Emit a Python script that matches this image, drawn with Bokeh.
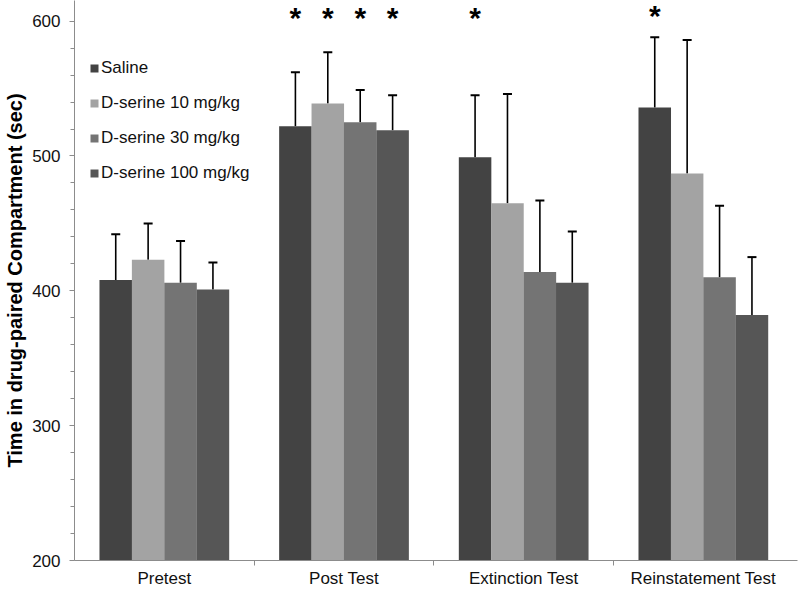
import numpy as np
from bokeh.plotting import figure
from bokeh.models import (ColumnDataSource, Range1d, FixedTicker, SingleIntervalTicker,
                          Whisker, TeeHead, Legend, LegendItem)
from bokeh.core.properties import value
from bokeh.embed import file_html
from bokeh.resources import INLINE

categories = ["Pretest", "Post Test", "Extinction Test", "Reinstatement Test"]
groups = ["Saline", "D-serine 10 mg/kg", "D-serine 30 mg/kg", "D-serine 100 mg/kg"]

saline = [408, 522, 499, 536]
dser10 = [423, 539, 465, 487]
dser30 = [406, 525, 414, 410]
dser100 = [401, 519, 406, 382]

saline_err = [34, 40, 46, 52]
dser10_err = [27, 38, 81, 99]
dser30_err = [31, 24, 53, 53]
dser100_err = [20, 26, 38, 43]

# significance markers (1 = asterisk above bar)
saline_sig = [0, 1, 1, 1]
dser10_sig = [0, 1, 0, 0]
dser30_sig = [0, 1, 0, 0]
dser100_sig = [0, 1, 0, 0]
star_y = [602.5, 602.5, 602.5, 604.5]

colors = ["#434343", "#a3a3a3", "#747474", "#565656"]
FONT = "Liberation Sans"

p = figure(width=800, height=592, output_backend="svg", toolbar_location=None,
           x_range=Range1d(0, 4.024), y_range=Range1d(200, 615.3),
           min_border_left=74, min_border_right=3, min_border_top=0, min_border_bottom=32)
p.grid.visible = False
p.outline_line_color = None
p.background_fill_color = "white"
p.border_fill_color = "white"

offsets = [-0.2705, -0.0902, 0.0902, 0.2705]
bar_w = 0.181

series = [saline, dser10, dser30, dser100]
errs = [saline_err, dser10_err, dser30_err, dser100_err]
sigs = [saline_sig, dser10_sig, dser30_sig, dser100_sig]

items = []
for i in range(4):
    x = np.arange(len(categories)) + 0.5 + offsets[i]
    vals = np.array(series[i], dtype=float)
    up = vals + np.array(errs[i], dtype=float)
    src = ColumnDataSource(dict(x=x, top=vals, upper=up))
    r = p.vbar(x="x", top="top", bottom=200, width=bar_w, source=src,
               fill_color=colors[i], line_color=None)
    items.append(LegendItem(label=groups[i], renderers=[r]))
    w = Whisker(base="x", lower="top", upper="upper", source=src,
                upper_head=TeeHead(size=9, line_width=2, line_color="black"),
                lower_head=None, line_color="black", line_width=1.6)
    p.add_layout(w)
    sx = [x[j] for j in range(len(categories)) if sigs[i][j]]
    sy = [star_y[j] for j in range(len(categories)) if sigs[i][j]]
    ssrc = ColumnDataSource(dict(x=sx, y=sy, t=["*"] * len(sx)))
    p.text(x="x", y="y", text="t", source=ssrc, text_align="center",
           text_baseline="alphabetic", text_font=value(FONT), text_font_style="bold",
           text_font_size="30px", text_color="black")

axis_col = "#8c8c8c"
# Y axis
yax = p.yaxis[0]
yax.ticker = SingleIntervalTicker(interval=100, num_minor_ticks=5)
yax.axis_line_color = axis_col
yax.major_tick_line_color = axis_col
yax.minor_tick_line_color = axis_col
yax.major_tick_in = 0
yax.major_tick_out = 5
yax.minor_tick_in = 0
yax.minor_tick_out = 4
yax.major_label_text_font = FONT
yax.major_label_text_font_size = "17px"
yax.major_label_text_color = "#111111"
yax.major_label_standoff = 9
yax.axis_label = "Time in drug-paired Compartment (sec)"
yax.axis_label_text_font = FONT
yax.axis_label_text_font_style = "bold"
yax.axis_label_text_font_size = "20px"
yax.axis_label_text_color = "black"
yax.axis_label_standoff = 3

# X axis
xax = p.xaxis[0]
centers = [k + 0.5 for k in range(len(categories))]
xax.ticker = FixedTicker(ticks=centers, minor_ticks=[1, 2, 3])
xax.major_label_overrides = {c: lab for c, lab in zip(centers, categories)}
xax.axis_line_color = axis_col
xax.major_tick_line_color = None
xax.minor_tick_line_color = axis_col
xax.major_tick_in = 0
xax.major_tick_out = 0
xax.minor_tick_in = 0
xax.minor_tick_out = 5
xax.major_label_text_font = FONT
xax.major_label_text_font_size = "17px"
xax.major_label_text_color = "#111111"
xax.major_label_standoff = 3

legend = Legend(items=items, location=(15, 377), orientation="vertical",
                glyph_width=10, glyph_height=10, label_height=20, spacing=15,
                label_standoff=2, padding=0, margin=0,
                label_text_font=FONT, label_text_font_size="17px",
                label_text_color="#111111",
                border_line_color=None, background_fill_alpha=0)
p.add_layout(legend)

open("out.html", "w").write(file_html(p, INLINE))
